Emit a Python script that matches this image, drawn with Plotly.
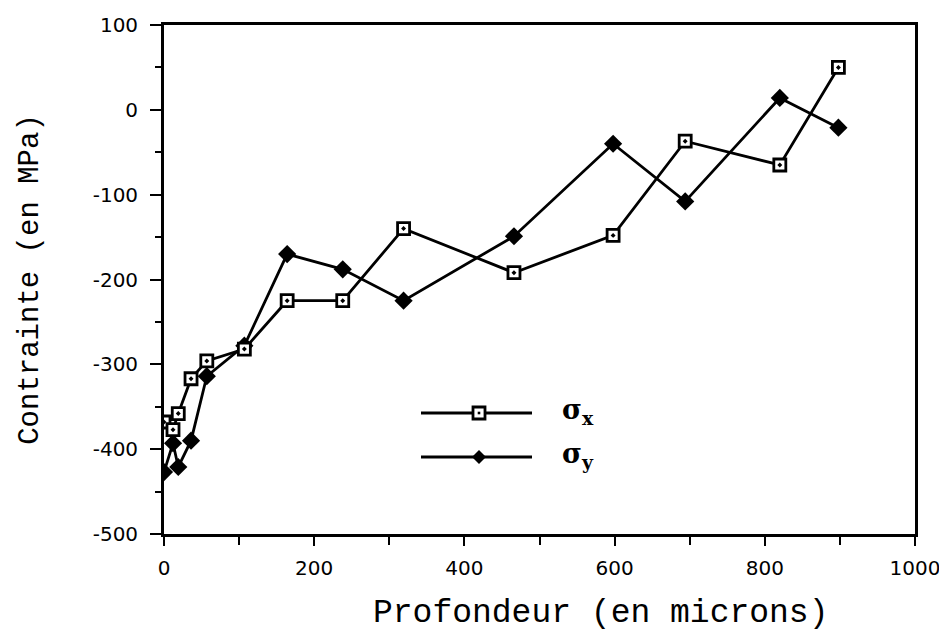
import plotly.graph_objects as go

# Data
depth = [0, 12, 19, 36, 57, 107, 164, 238, 319, 466, 598, 694, 820, 898]
sigma_x = [-368, -377, -358, -317, -296, -282, -225, -225, -140, -192, -148, -37, -65, 50]
sigma_y = [-427, -393, -421, -390, -314, -278, -170, -188, -225, -149, -40, -108, 14, -21]

series_names = ["<b>σ</b><sub><b>x</b></sub>", "<b>σ</b><sub><b>y</b></sub>"]

x_tickvals = [0, 200, 400, 600, 800, 1000]
x_ticktext = ["0", "200", "400", "600", "800", "1000"]
y_tickvals = [100, 0, -100, -200, -300, -400, -500]
y_ticktext = ["100", "0", "-100", "-200", "-300", "-400", "-500"]

x_title = "Profondeur (en microns)"
y_title = "Contrainte (en MPa)"

fig = go.Figure()
fig.add_trace(go.Scatter(
    x=depth, y=sigma_y, mode="lines+markers", name="σy",
    line=dict(color="black", width=2.8),
    marker=dict(symbol="diamond", size=14, color="black", line=dict(color="black", width=0)),
    showlegend=False,
))
fig.add_trace(go.Scatter(
    x=depth, y=sigma_x, mode="lines+markers", name="σx",
    line=dict(color="black", width=2.8),
    marker=dict(symbol="square-dot", size=12, color="white", line=dict(color="black", width=2.8)),
    showlegend=False,
))

# Hand-drawn legend (paper coordinates; plot area spans page px 164..915 x, 25..534 y)
PW, PH = 751.0, 509.0
def px(xp):
    return (xp - 164) / PW
def py(yp):
    return (534 - yp) / PH

shapes = []
rows = [(413, "square"), (457, "diamond")]
for ypix, kind in rows:
    shapes.append(dict(type="line", xref="paper", yref="paper",
                       x0=px(421), x1=px(532), y0=py(ypix), y1=py(ypix),
                       line=dict(color="black", width=2.8)))
    if kind == "square":
        shapes.append(dict(type="rect", xref="paper", yref="paper",
                           xsizemode="pixel", ysizemode="pixel",
                           xanchor=px(479), yanchor=py(ypix),
                           x0=-6, x1=6, y0=-6, y1=6,
                           fillcolor="white", line=dict(color="black", width=2.8)))
        shapes.append(dict(type="rect", xref="paper", yref="paper",
                           xsizemode="pixel", ysizemode="pixel",
                           xanchor=px(479), yanchor=py(ypix),
                           x0=-1.3, x1=1.3, y0=-1.3, y1=1.3,
                           fillcolor="black", line=dict(color="black", width=0)))
    else:
        shapes.append(dict(type="path", xref="paper", yref="paper",
                           xsizemode="pixel", ysizemode="pixel",
                           xanchor=px(479), yanchor=py(ypix),
                           path="M -7 0 L 0 7 L 7 0 L 0 -7 Z",
                           fillcolor="black", line=dict(color="black", width=0)))

annotations = []
for (ypix, _), label in zip(rows, series_names):
    annotations.append(dict(
        x=px(560), y=py(ypix - 2), xref="paper", yref="paper",
        text=label, showarrow=False, xanchor="left", yanchor="middle",
        font=dict(family="DejaVu Serif", size=27, color="black"),
    ))

# x-axis title (placed as in the reference, right of the plot centre)
annotations.append(dict(
    x=px(600), y=py(613), xref="paper", yref="paper",
    text=x_title, showarrow=False, xanchor="center", yanchor="middle",
    font=dict(family="Liberation Mono", size=33, color="black"),
))

# The page adds an 8px body margin, so figure margins are shifted by 8px.
fig.update_layout(
    width=947, height=642,
    margin=dict(l=156, r=40, t=17, b=116, autoexpand=False),
    paper_bgcolor="white", plot_bgcolor="white",
    shapes=shapes, annotations=annotations,
    showlegend=False,
)

fig.update_xaxes(
    range=[0, 1000], tickmode="array", tickvals=x_tickvals, ticktext=x_ticktext,
    showgrid=False, zeroline=False, automargin=False,
    showline=True, linecolor="black", linewidth=2.8, mirror=True,
    ticks="outside", ticklen=9, tickwidth=2, tickcolor="black",
    ticklabelstandoff=5,
    minor=dict(dtick=100, tick0=0, ticks="outside", ticklen=8, tickwidth=2,
               tickcolor="black", showgrid=False),
    tickfont=dict(family="DejaVu Sans", size=20, color="black"),
)
fig.update_yaxes(
    range=[-500, 100], tickmode="array", tickvals=y_tickvals, ticktext=y_ticktext,
    showgrid=False, zeroline=False, automargin=False,
    showline=True, linecolor="black", linewidth=2.8, mirror=True,
    ticks="outside", ticklen=11, tickwidth=2, tickcolor="black",
    ticklabelstandoff=8,
    minor=dict(dtick=50, tick0=0, ticks="outside", ticklen=6, tickwidth=2,
               tickcolor="black", showgrid=False),
    tickfont=dict(family="DejaVu Sans", size=20, color="black"),
    title=dict(text=y_title, standoff=46,
               font=dict(family="Liberation Mono", size=29, color="black")),
)

fig.write_html("out.html")
